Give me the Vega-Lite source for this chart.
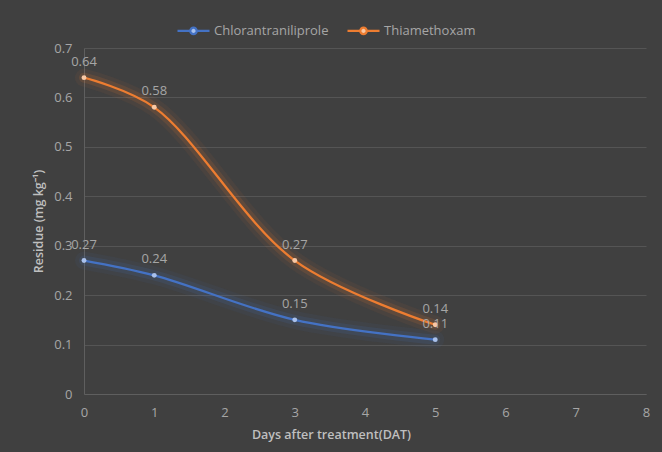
{
  "$schema": "https://vega.github.io/schema/vega-lite/v6.json",
  "width": 562,
  "height": 346,
  "autosize": "none",
  "padding": {"left": 84, "top": 48, "right": 16, "bottom": 58},
  "background": "#404040",
  "data": {
    "values": [
      {"day": 0, "residue": 0.27, "pesticide": "Chlorantraniliprole"},
      {"day": 1, "residue": 0.24, "pesticide": "Chlorantraniliprole"},
      {"day": 3, "residue": 0.15, "pesticide": "Chlorantraniliprole"},
      {"day": 5, "residue": 0.11, "pesticide": "Chlorantraniliprole"},
      {"day": 0, "residue": 0.64, "pesticide": "Thiamethoxam"},
      {"day": 1, "residue": 0.58, "pesticide": "Thiamethoxam"},
      {"day": 3, "residue": 0.27, "pesticide": "Thiamethoxam"},
      {"day": 5, "residue": 0.14, "pesticide": "Thiamethoxam"}
    ]
  },
  "encoding": {
    "x": {
      "field": "day",
      "type": "quantitative",
      "scale": {"domain": [0, 8], "nice": false},
      "axis": {
        "title": "Days after treatment(DAT)",
        "titleX": 247,
        "titleAnchor": "middle",
        "values": [0, 1, 2, 3, 4, 5, 6, 7, 8],
        "format": "d",
        "grid": false,
        "ticks": false,
        "labelFlush": false,
        "labelPadding": 12,
        "titlePadding": 9
      }
    },
    "y": {
      "field": "residue",
      "type": "quantitative",
      "scale": {"domain": [0, 0.7], "nice": false},
      "axis": {
        "title": "Residue (mg kg⁻¹)",
        "values": [0, 0.1, 0.2, 0.3, 0.4, 0.5, 0.6, 0.7],
        "format": ".1~f",
        "ticks": false,
        "labelFlush": false,
        "labelPadding": 12,
        "titlePadding": 8
      }
    },
    "stroke": {
      "field": "pesticide",
      "type": "nominal",
      "scale": {"domain": ["Chlorantraniliprole", "Thiamethoxam"], "range": ["#4472C4", "#ED7D31"]},
      "legend": {
        "title": null,
        "orient": "none",
        "direction": "horizontal",
        "legendX": 92,
        "legendY": -35,
        "symbolType": "M-1,0L-0.2,0M0.2,0L1,0M0.2,0A0.2,0.2,0,1,1,-0.2,0A0.2,0.2,0,1,1,0.2,0Z",
        "symbolSize": 1024,
        "symbolStrokeWidth": 2.25,
        "symbolOpacity": 1,
        "symbolFillColor": "#d9d9d9",
        "labelOffset": 3,
        "columnPadding": 14
      }
    }
  },
  "layer": [
    {
      "mark": {"type": "line", "interpolate": "catmull-rom", "strokeWidth": 18, "opacity": 0.06, "strokeCap": "round"}
    },
    {
      "mark": {"type": "line", "interpolate": "catmull-rom", "strokeWidth": 10, "opacity": 0.13, "strokeCap": "round"}
    },
    {
      "mark": {"type": "line", "interpolate": "catmull-rom", "strokeWidth": 2.25}
    },
    {
      "mark": {"type": "point", "filled": true, "size": 24, "opacity": 1, "strokeWidth": 0},
      "encoding": {
        "stroke": {"value": null},
        "fill": {
          "field": "pesticide",
          "type": "nominal",
          "scale": {"domain": ["Chlorantraniliprole", "Thiamethoxam"], "range": ["#a9c1ec", "#f9c8a4"]},
          "legend": null
        }
      }
    },
    {
      "mark": {"type": "text", "dy": -16, "fontSize": 13, "color": "#a6a6a6", "font": "Open Sans"},
      "encoding": {
        "stroke": {"value": null},
        "text": {"field": "residue", "type": "quantitative", "format": ".2f"}
      }
    }
  ],
  "config": {
    "view": {"stroke": null},
    "axis": {
      "domainColor": "#5f5f5f",
      "gridColor": "#555555",
      "gridWidth": 1,
      "labelColor": "#a6a6a6",
      "labelFont": "Open Sans",
      "labelFontSize": 13,
      "titleColor": "#bfbfbf",
      "titleFont": "Open Sans",
      "titleFontSize": 12.5,
      "titleFontWeight": 600
    },
    "legend": {
      "labelColor": "#a6a6a6",
      "labelFont": "Open Sans",
      "labelFontSize": 13
    }
  }
}
